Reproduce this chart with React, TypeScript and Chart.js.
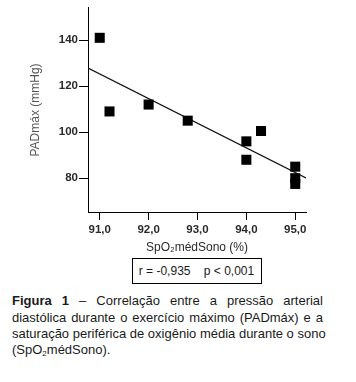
import React, { useEffect, useRef } from "react";
import { Chart, registerables } from "chart.js";

Chart.register(...registerables);

const spo2Values = [91.0, 91.2, 92.0, 92.8, 94.0, 94.0, 94.3, 95.0, 95.0, 95.0];
const padValues = [141, 109, 112, 105, 96, 88, 100.5, 85, 80, 77.5];
const fitX = [90.76, 95.22];
const fitY = [127.9, 80.1];
const xTicks = [91, 92, 93, 94, 95];
const yTicks = [80, 100, 120, 140];
const xRange = [90.76, 95.22];
const yRange = [65.3, 154];
const xTitle = "SpO\u2082médSono (%)";
const yTitle = "PADmáx (mmHg)";
const statText = "r = -0,935    p < 0,001";
const captionLines = [
  "Correlação entre a pressão arterial",
  "diastólica durante o exercício máximo (PADmáx) e a",
  "saturação periférica de oxigênio média durante o sono",
];

export default function App() {
  const ref = useRef<HTMLCanvasElement | null>(null);

  useEffect(() => {
    if (!ref.current) return;
    const chart = new Chart(ref.current, {
      type: "scatter",
      data: {
        datasets: [
          {
            data: spo2Values.map((x, i) => ({ x, y: padValues[i] })),
            pointStyle: "rect",
            pointRadius: 7.1,
            pointHoverRadius: 7.1,
            backgroundColor: "#000",
            borderWidth: 0,
            showLine: false,
          },
          {
            data: fitX.map((x, i) => ({ x, y: fitY[i] })),
            showLine: true,
            borderColor: "#111",
            borderWidth: 1.3,
            pointRadius: 0,
            fill: false,
          },
        ],
      },
      options: {
        animation: false,
        responsive: false,
        events: [],
        layout: { padding: { left: 0, right: 50, top: 5, bottom: 0 } },
        plugins: { legend: { display: false }, tooltip: { enabled: false } },
        scales: {
          x: {
            type: "linear",
            min: xRange[0],
            max: xRange[1],
            afterBuildTicks: (s: any) => {
              s.ticks = xTicks.map((v) => ({ value: v }));
            },
            afterFit: (s: any) => {
              s.height = 44;
            },
            border: { display: true, color: "#000", width: 1 },
            grid: { drawOnChartArea: false, drawTicks: true, tickLength: 8, color: "#000" },
            ticks: {
              color: "#2a2a2a",
              font: { family: "Liberation Sans", size: 11.5, weight: "bold" },
              padding: 3,
              maxRotation: 0,
              callback: (v: any) => Number(v).toFixed(1).replace(".", ","),
            },
            title: {
              display: true,
              text: xTitle,
              color: "#2a2a2a",
              font: { family: "Liberation Sans", size: 12 },
              padding: { top: 0, bottom: 1 },
            },
          },
          y: {
            type: "linear",
            min: yRange[0],
            max: yRange[1],
            afterBuildTicks: (s: any) => {
              s.ticks = yTicks.map((v) => ({ value: v }));
            },
            afterFit: (s: any) => {
              s.width = 88;
            },
            border: { display: true, color: "#000", width: 1 },
            grid: { drawOnChartArea: false, drawTicks: true, tickLength: 9, color: "#000" },
            ticks: {
              color: "#2a2a2a",
              font: { family: "Liberation Sans", size: 11.5, weight: "bold" },
              padding: 1,
              callback: (v: any) => String(v),
            },
            title: {
              display: true,
              text: yTitle,
              color: "#555",
              font: { family: "Liberation Sans", size: 12 },
              padding: { top: 28, bottom: 0 },
            },
          },
        },
      },
    });
    return () => chart.destroy();
  }, []);

  const lineStyle: React.CSSProperties = {
    height: "16.3px",
    lineHeight: "16.3px",
    textAlign: "justify",
    textAlignLast: "justify" as any,
    whiteSpace: "nowrap",
  };

  return (
    <div
      style={{
        position: "absolute",
        left: 0,
        top: 0,
        width: 356,
        height: 382,
        background: "#fff",
        overflow: "hidden",
      }}
    >
      <canvas ref={ref} width={356} height={256} style={{ position: "absolute", left: 0, top: 0, width: 356, height: 256 }} />
      <div
        style={{
          position: "absolute",
          left: 131.5,
          top: 258,
          width: 130,
          height: 26,
          boxSizing: "border-box",
          border: "1px solid #000",
          textAlign: "center",
          lineHeight: "24px",
          fontFamily: "Liberation Sans",
          fontSize: 12,
          color: "#1a1a1a",
          whiteSpace: "pre",
        }}
      >
        {statText}
      </div>
      <div
        style={{
          position: "absolute",
          left: 12,
          top: 293.3,
          width: 311,
          fontFamily: "Liberation Sans",
          fontSize: 13,
          color: "#1a1a1a",
        }}
      >
        <div style={{ ...lineStyle, whiteSpace: "normal" }}>
          <b style={{ fontWeight: 900 }}>Figura</b>{" "}
          <b style={{ fontWeight: 900 }}>1</b> – {captionLines[0]}
        </div>
        <div style={lineStyle}>{captionLines[1]}</div>
        <div style={lineStyle}>{captionLines[2]}</div>
        <div style={{ height: "16.3px", lineHeight: "16.3px" }}>
          (SpO<sub style={{ fontSize: 8, verticalAlign: "-2px", lineHeight: 0 }}>2</sub>médSono).
        </div>
      </div>
    </div>
  );
}
